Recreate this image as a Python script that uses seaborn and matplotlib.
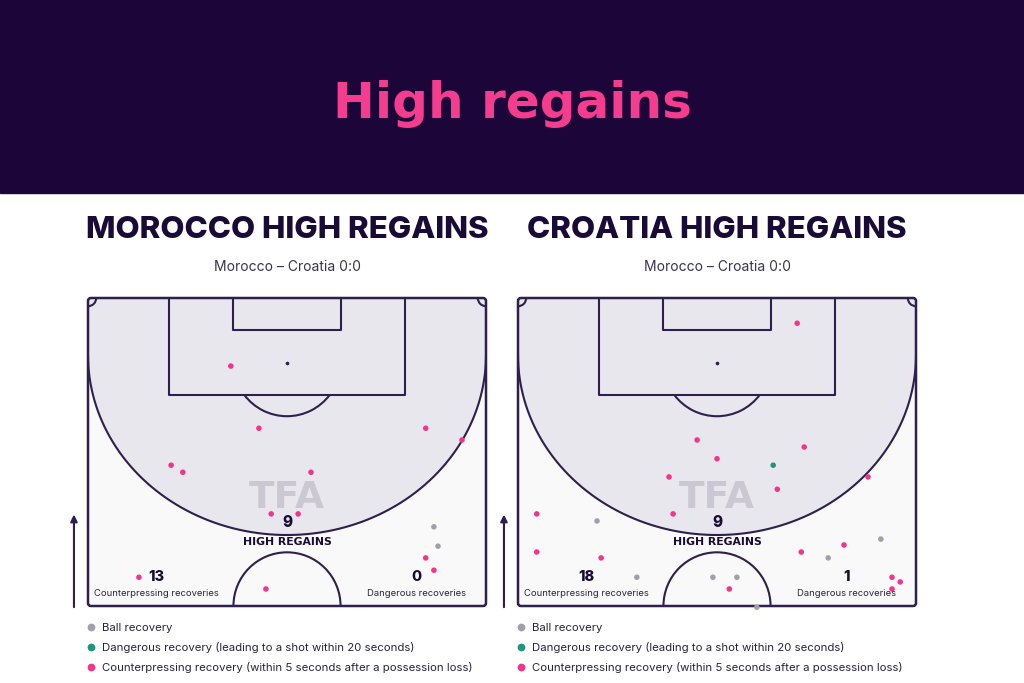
import numpy as np
import pandas as pd
import matplotlib.pyplot as plt
import seaborn as sns
from matplotlib.patches import Rectangle, Arc, Polygon, FancyBboxPatch

# ---- data -------------------------------------------------------------
KINDS = ["Ball recovery",
         "Dangerous recovery (leading to a shot within 20 seconds)",
         "Counterpressing recovery (within 5 seconds after a possession loss)"]
KIND_COLORS = ["#a29fad", "#1f9580", "#f2358a"]

TEAMS = ["MOROCCO", "CROATIA"]
SUBTITLE = "Morocco – Croatia 0:0"
HIGH_REGAINS = [9, 9]
COUNTERPRESS = [13, 18]
DANGEROUS = [0, 1]

# positions in metres: x across the pitch (0-68), y from halfway line (0-52.5)
mor_x = [24.4, 29.2, 57.7, 63.9, 14.2, 16.2, 38.1, 31.3, 35.9, 57.7, 59.1, 30.4, 8.7,
         59.1, 59.8]
mor_y = [40.9, 30.3, 30.3, 28.3, 24.0, 22.8, 22.8, 15.7, 15.7, 8.2, 6.1, 2.9, 4.9,
         13.5, 10.2]
mor_kind = [2, 2, 2, 2, 2, 2, 2, 2, 2, 2, 2, 2, 2,
            0, 0]

cro_x = [47.7, 30.6, 48.9, 34.0, 25.8, 44.3, 59.8, 26.5, 3.2, 3.2, 14.2, 48.4, 55.7,
         36.1, 63.9, 65.3, 63.9,
         43.6,
         13.5, 20.3, 33.3, 37.4, 53.0, 62.0, 40.8]
cro_y = [48.2, 28.3, 27.1, 25.1, 22.0, 19.9, 22.0, 15.7, 15.7, 9.2, 8.2, 9.2, 10.4,
         2.9, 4.9, 4.1, 2.9,
         24.0,
         14.5, 4.9, 4.9, 4.9, 8.2, 11.4, -0.2]
cro_kind = [2, 2, 2, 2, 2, 2, 2, 2, 2, 2, 2, 2, 2,
            2, 2, 2, 2,
            1,
            0, 0, 0, 0, 0, 0, 0]

# ---- style ------------------------------------------------------------
HEADER_BG = "#1c0538"
PINK = "#f43d8e"
DARK = "#1a0a36"
LINE = "#2e1f4d"
SHADE = "#e9e7ee"
PITCH_BG = "#f9f9fa"
WATERMARK = "#cbc8d3"

sns.set_style("white")
plt.rcParams["font.family"] = ["Inter", "DejaVu Sans"]

W, H = 1024, 683
fig = plt.figure(figsize=(W / 100, H / 100), dpi=100)

# header band
fig.patches.append(Rectangle((0, 1 - 193 / H), 1, 193 / H, transform=fig.transFigure,
                             color=HEADER_BG, zorder=0))
fig.text(0.5, 1 - 118 / H, "High regains", ha="center", va="baseline",
         fontsize=36, weight="bold", color=PINK, family="DejaVu Sans")


def draw_pitch(ax):
    lw = 1.5
    ax.add_patch(Rectangle((0, 0), 68, 52.5, fc=PITCH_BG, ec="none", zorder=0))
    # shaded high-regain zone
    t = np.linspace(np.pi, 2 * np.pi, 200)
    ax_ = 34 + 34 * np.cos(t)
    ay_ = 42.8 + 30.7 * np.sin(t)
    poly = np.column_stack([np.r_[0, ax_, 68], np.r_[52.5, ay_, 52.5]])
    ax.add_patch(Polygon(poly, fc=SHADE, ec="none", zorder=1))
    ax.plot(ax_, ay_, color=LINE, lw=lw, zorder=2)
    # boxes
    kw = dict(color=LINE, lw=lw, zorder=2, solid_joinstyle="round", solid_capstyle="round")
    ax.plot([13.84, 13.84, 54.16, 54.16], [52.5, 36, 36, 52.5], **kw)
    ax.plot([24.84, 24.84, 43.16, 43.16], [52.5, 47, 47, 52.5], **kw)
    ax.plot([34], [41.5], marker="o", ms=1.6, color=LINE, zorder=2)
    ax.add_patch(Arc((34, 41.5), 18.3, 18.3, theta1=216.9, theta2=323.1,
                     color=LINE, lw=lw, zorder=2))
    ax.add_patch(Arc((34, 0), 18.3, 18.3, theta1=0, theta2=180,
                     color=LINE, lw=lw, zorder=2))
    ax.add_patch(Arc((0, 52.5), 2.8, 2.8, theta1=270, theta2=360,
                     color=LINE, lw=lw, zorder=2))
    ax.add_patch(Arc((68, 52.5), 2.8, 2.8, theta1=180, theta2=270,
                     color=LINE, lw=lw, zorder=2))
    ax.add_patch(FancyBboxPatch((0, 0), 68, 52.5, boxstyle="round,pad=0,rounding_size=0.5",
                                fc="none", ec=LINE, lw=1.8, zorder=4, clip_on=False))
    # attacking direction arrow
    ax.annotate("", xy=(-2.4, 15.6), xytext=(-2.4, -0.2), annotation_clip=False,
                arrowprops=dict(arrowstyle="-|>", color=LINE, lw=1.5, mutation_scale=10,
                                shrinkA=0, shrinkB=0))
    ax.text(34, 18.4, "TFA", ha="center", va="center", fontsize=27, weight="heavy",
            color=WATERMARK, zorder=3, family="DejaVu Sans")


teams = [(mor_x, mor_y, mor_kind), (cro_x, cro_y, cro_kind)]
lefts = [88, 518]

for i, (xs, ys, kinds) in enumerate(teams):
    left = lefts[i]
    ax = fig.add_axes([left / W, 77 / H, 398 / W, 308 / H])
    draw_pitch(ax)

    df = pd.DataFrame({"x": xs, "y": ys, "kind": [KINDS[k] for k in kinds]})
    sns.scatterplot(data=df, x="x", y="y", hue="kind", hue_order=KINDS,
                    palette=KIND_COLORS, s=16, linewidth=0, ax=ax, zorder=6,
                    clip_on=False)
    sns.move_legend(ax, "upper left", bbox_to_anchor=(-0.004, -0.055), frameon=False,
                    title=None, fontsize=8.2, handlelength=0.8, handletextpad=0.55,
                    labelspacing=0.8, borderaxespad=0, borderpad=0, markerscale=1.4,
                    labelcolor="#2a2340")

    ax.set_xlim(0, 68)
    ax.set_ylim(0, 52.5)
    ax.set_axis_off()

    # in-pitch annotations
    ax.text(34, 14.3, str(HIGH_REGAINS[i]), ha="center", va="center", fontsize=11,
            weight="heavy", color=DARK, zorder=7)
    ax.text(34, 10.9, "HIGH REGAINS", ha="center", va="center", fontsize=7.8,
            weight="bold", color=DARK, zorder=7, family="DejaVu Sans")
    ax.text(11.7, 4.9, str(COUNTERPRESS[i]), ha="center", va="center", fontsize=10.5,
            weight="heavy", color=DARK, zorder=7)
    ax.text(11.7, 2.2, "Counterpressing recoveries", ha="center", va="center",
            fontsize=6.8, color="#2a2340", zorder=7)
    ax.text(56.2, 4.9, str(DANGEROUS[i]), ha="center", va="center", fontsize=10.5,
            weight="heavy", color=DARK, zorder=7)
    ax.text(56.2, 2.2, "Dangerous recoveries", ha="center", va="center",
            fontsize=6.8, color="#2a2340", zorder=7)

    cx = (left + 199) / W
    fig.text(cx, 1 - 230 / H, f"{TEAMS[i]} HIGH REGAINS", ha="center", va="center",
             fontsize=22.5, weight="heavy", color=DARK)
    fig.text(cx, 1 - 267 / H, SUBTITLE, ha="center", va="center", fontsize=10,
             color="#3b3350")

fig.savefig("out.png", dpi=100, facecolor="white")
